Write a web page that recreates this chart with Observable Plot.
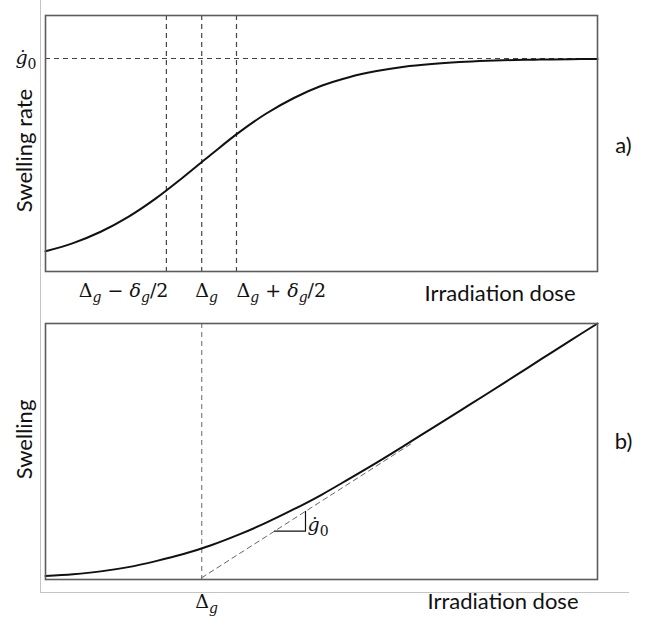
<!DOCTYPE html>
<html>
<head>
<meta charset="utf-8">
<script src="https://cdn.jsdelivr.net/npm/d3@7"></script>
<script src="https://cdn.jsdelivr.net/npm/@observablehq/plot@0.6"></script>
<style>
  html, body { margin: 0; padding: 0; background: #fff; }
  #fig { position: relative; width: 657px; height: 621px; overflow: hidden; }
  #fig .outer { position: absolute; left: 40px; top: 0; width: 588px; height: 592px;
    border-left: 1.5px solid #c4c4c4; border-bottom: 1.5px solid #c4c4c4; }
  #fig .panel { position: absolute; left: 0; }
  #fig text.math, #fig text.math tspan { font-family: "DejaVu Serif", "Liberation Serif", serif !important; }
</style>
</head>
<body>
<div id="fig"><div class="outer"></div></div>
<script>
// ---------- data ----------
// panel a) swelling rate vs dose (g0 = 1)
const rateDose = [0, 5, 10, 15, 20, 25, 30, 35, 40, 45, 50, 55, 60, 65, 70, 75, 80, 85, 90, 95, 100];
const swellingRate = [0.082, 0.121, 0.175, 0.246, 0.334, 0.436, 0.543, 0.647, 0.738, 0.812, 0.870,
                      0.911, 0.940, 0.961, 0.974, 0.983, 0.989, 0.993, 0.995, 0.997, 0.998];
const g0 = 1;
const deltaG = 28.3;
const tickDoses = [21.9, 28.3, 34.6];
const tickLabels = ["Δ_g − δ_g/2", "Δ_g", "Δ_g + δ_g/2"];
const g0Label = "ġ_0";

// panel b) swelling vs dose
const swellDose = [0, 5, 10, 15, 20, 25, 30, 35, 40, 45, 50, 55, 60, 65, 70, 75, 80, 85, 90, 95, 100];
const swelling = [0.5, 1.0, 1.8, 3.0, 4.7, 6.7, 9.2, 12.2, 15.6, 19.4, 23.5, 28.0, 32.6, 37.4,
                  42.3, 47.2, 52.1, 57.1, 62.1, 67.1, 72.0];
const asymDose = [28.3, 66.5];
const asymSwelling = [0, 38.2];
const triDose = [41.5, 47.1, 47.1];
const triSwelling = [13.2, 13.2, 18.8];

const xLabel = "Irradiation dose";
const yLabelA = "Swelling rate";
const yLabelB = "Swelling";
const panelA = "a)";
const panelB = "b)";

// ---------- helpers ----------
function mathify(svg) {
  d3.select(svg).selectAll("text").each(function () {
    const s = this.textContent;
    if (!/[_Δδġ]/.test(s)) return;
    const el = d3.select(this);
    el.text(null).classed("math", true).style("font-size", "19px");
    const runs = [];
    for (let i = 0; i < s.length; i++) {
      let ch = s[i], sub = false;
      if (ch === "_") { sub = true; ch = s[++i]; }
      const it = /[gδġ]/.test(ch);
      const last = runs[runs.length - 1];
      if (last && last.sub === sub && last.it === it) last.t += ch;
      else runs.push({t: ch, sub, it});
    }
    let shift = 0;
    for (const r of runs) {
      const t = el.append("tspan").text(r.t);
      if (r.it) t.style("font-style", "italic");
      if (r.sub) t.style("font-size", "14px");
      const want = r.sub ? 5 : 0;
      if (want !== shift) { t.attr("dy", want - shift); shift = want; }
    }
  });
}

const dash = "5,4";
const common = {
  width: 657,
  marginLeft: 45,
  marginRight: 60,
  x: {domain: [0, 100], axis: null},
  style: {fontFamily: "Lato, sans-serif", fontSize: "22px", background: "transparent", overflow: "visible", color: "#111"}
};

// ---------- panel a ----------
const anchors = ["end", "middle", "start"];
const tickDx = [2, 5, 0];
const plotA = Plot.plot({
  ...common,
  height: 300,
  marginTop: 15,
  marginBottom: 29,
  y: {domain: [-0.0143, 1.2048], axis: null},
  marks: [
    Plot.ruleY([g0], {stroke: "#444", strokeWidth: 1.2, strokeDasharray: dash}),
    Plot.ruleX(tickDoses, {stroke: "#444", strokeWidth: 1.2, strokeDasharray: dash}),
    Plot.line(rateDose, {x: rateDose, y: swellingRate, stroke: "#111", strokeWidth: 2, curve: "catmull-rom"}),
    Plot.frame({stroke: "#5c5c5c", strokeWidth: 1.6}),
    ...[0, 1, 2].map(i => Plot.text([i], {
      x: d => tickDoses[d], text: d => tickLabels[d], frameAnchor: "bottom", lineAnchor: "bottom",
      dy: 25, dx: tickDx[i], textAnchor: anchors[i], fill: "#111"
    })),
    Plot.text([g0], {y: d => d, text: () => g0Label, frameAnchor: "left", textAnchor: "end",
      lineAnchor: "middle", dx: -9, dy: -1, fill: "#111"}),
    Plot.text([xLabel], {text: d => d, frameAnchor: "bottom-right", textAnchor: "end", lineAnchor: "bottom",
      dx: -22, dy: 29, fill: "#111"}),
    Plot.text([yLabelA], {text: d => d, frameAnchor: "left", rotate: -90, textAnchor: "middle",
      lineAnchor: "middle", dx: -21, dy: 7, fill: "#111"}),
    Plot.text([panelA], {text: d => d, frameAnchor: "right", textAnchor: "middle", lineAnchor: "middle",
      dx: 26, dy: 2, fill: "#111"})
  ]
});

// ---------- panel b ----------
const plotB = Plot.plot({
  ...common,
  height: 321,
  marginTop: 23,
  marginBottom: 42,
  y: {domain: [-0.5, 72], axis: null},
  marks: [
    Plot.ruleX([deltaG], {stroke: "#808080", strokeWidth: 1.2, strokeDasharray: dash}),
    Plot.line(asymDose, {x: asymDose, y: asymSwelling, stroke: "#666", strokeWidth: 1, strokeDasharray: dash}),
    Plot.line(triDose, {x: triDose, y: triSwelling, stroke: "#111", strokeWidth: 1.2}),
    Plot.line(swellDose, {x: swellDose, y: swelling, stroke: "#111", strokeWidth: 2, curve: "catmull-rom"}),
    Plot.frame({stroke: "#5c5c5c", strokeWidth: 1.6}),
    Plot.text([g0Label], {x: () => triDose[1], y: () => triSwelling[0], text: d => d, textAnchor: "start",
      lineAnchor: "bottom", dx: 2, dy: 0, fill: "#111"}),
    Plot.text([tickLabels[1]], {x: () => deltaG, text: d => d, frameAnchor: "bottom", lineAnchor: "bottom",
      dy: 28, dx: 5, textAnchor: "middle", fill: "#111"}),
    Plot.text([xLabel], {text: d => d, frameAnchor: "bottom-right", textAnchor: "end", lineAnchor: "bottom",
      dx: -19, dy: 29, fill: "#111"}),
    Plot.text([yLabelB], {text: d => d, frameAnchor: "left", rotate: -90, textAnchor: "middle",
      lineAnchor: "middle", dx: -21, dy: -12, fill: "#111"}),
    Plot.text([panelB], {text: d => d, frameAnchor: "right", textAnchor: "middle", lineAnchor: "middle",
      dx: 26, dy: -10, fill: "#111"})
  ]
});

mathify(plotA);
mathify(plotB);
plotA.classList.add("panel");
plotB.classList.add("panel");
plotA.style.top = "0px";
plotB.style.top = "300px";
const fig = document.getElementById("fig");
fig.appendChild(plotA);
fig.appendChild(plotB);
</script>
</body>
</html>
